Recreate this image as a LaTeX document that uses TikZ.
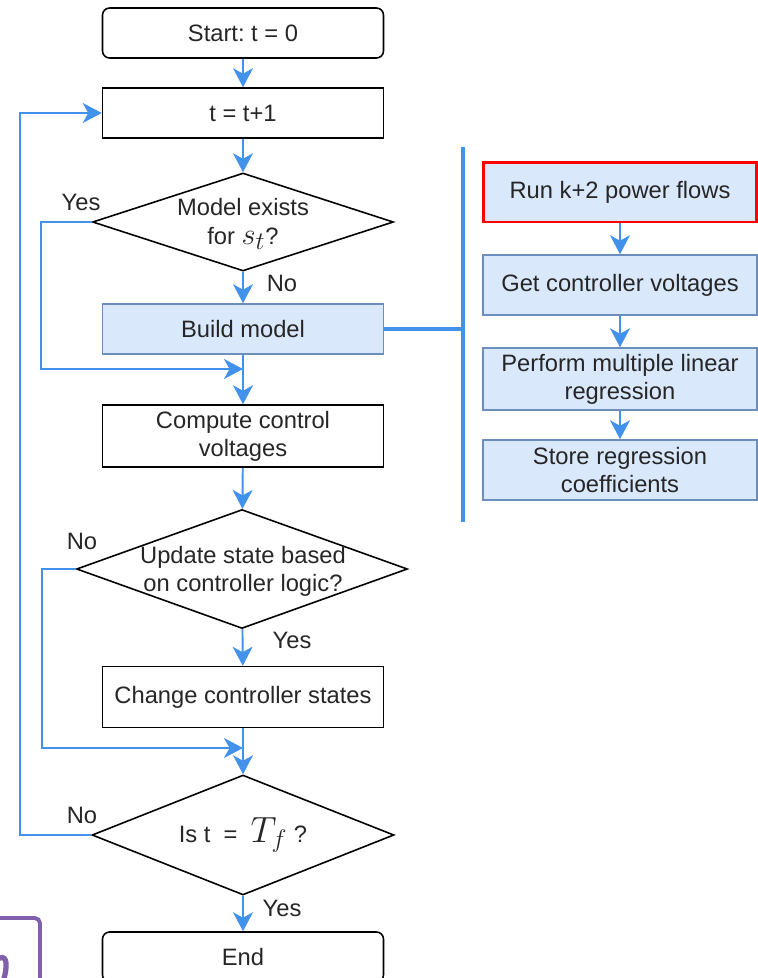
\documentclass[tikz,border=0pt]{standalone}
\usepackage{fontspec}
\setmainfont{Liberation Sans}
\usepackage{xcolor}
\usepackage{tikz}
\usetikzlibrary{calc}
\usetikzlibrary{shapes.geometric}
\usetikzlibrary{arrows.meta}
\definecolor{flowblue}{RGB}{66,146,236}
\definecolor{stepfill}{RGB}{218,232,252}
\definecolor{stepedge}{RGB}{108,142,191}
\definecolor{marker}{RGB}{130,95,170}
\def\bigmath{\fontsize{19}{19}\selectfont}
\def\hugemath{\fontsize{20}{20}\selectfont}
\frenchspacing

\begin{document}
\begin{tikzpicture}[x=0.02cm,y=-0.02cm,
	every node/.style={font=\fontsize{13.5}{16}\selectfont,text=black!85},
	flow/.style={draw=flowblue,line width=1.1pt,-{Stealth[length=3.8mm,width=4mm,inset=1.1mm]}},
	bar/.style={draw=flowblue,line width=2.4pt},
	term/.style={draw,line width=0.9pt,rounded corners=4pt,minimum width=5.62cm,minimum height=1cm},
	proc/.style={draw,line width=0.9pt,minimum width=5.62cm,minimum height=1cm,align=center},
	build/.style={proc,draw=stepedge,fill=stepfill},
	sub/.style={draw=stepedge,fill=stepfill,line width=0.9pt,minimum width=5.48cm,minimum height=1.2cm,align=center},
	decision/.style={diamond,draw,line width=0.9pt,inner sep=0pt}]
	\useasboundingbox (0,0) rectangle (758,978);
	% main column
	\node[term] (start) at (243,33) {Start: t = 0};
	\node[proc] (tick) at (243,113) {t = t+1};
	\node[decision,minimum width=6.02cm,minimum height=1.96cm] (exists) at (243,222) {};
	\node[align=center] (existstext) at (243,224) {Model exists\\for {\bigmath$s_t$}?};
	\node[build] (build) at (243,329) {Build model};
	\coordinate (join1) at (243,369);
	\node[proc,minimum height=1.22cm] (compute) at (243,436) {Compute control\\voltages};
	\node[decision,minimum width=6.62cm,minimum height=2.38cm] (update) at (242,569) {};
	\node[align=center] (updatetext) at (243,571) {Update state based\\on controller logic?};
	\node[proc,minimum height=1.22cm] (change) at (243,697) {Change controller states};
	\coordinate (join2) at (243,748);
	\node[decision,minimum width=6.04cm,minimum height=2.4cm] (done) at (243,835) {};
	\node (donetext) at (243,835) {Is t~ = ~{\hugemath$T_f$} ?};
	\node[term] (end) at (243,957) {End};
	% answers
	\node (yes1) at (81,202) {Yes};
	\node (no1) at (282,283) {No};
	\node (no2) at (82,541) {No};
	\node (yes2) at (292,640) {Yes};
	\node (no3) at (82,815) {No};
	\node (yes3) at (282,908) {Yes};
	% connectors
	\draw[flow] (start) -- (tick);
	\draw[flow] (tick) -- (exists);
	\draw[flow] (exists) -- (build);
	\draw[flow] (build) -- (compute);
	\draw[flow] (exists.west) -- ++(-51,0) |- (join1);
	\draw[flow] (compute) -- (update);
	\draw[flow] (update) -- (change);
	\draw[flow] (change) -- (done);
	\draw[flow] (update.west) -- ++(-34,0) |- (join2);
	\draw[flow] (done) -- (end);
	\draw[flow] (done.west) -- ++(-71,0) |- (tick.west);
	% model building steps
	\coordinate (bartop) at (463,147);
	\coordinate (barbot) at (463,522);
	\draw[bar] (bartop) -- (barbot);
	\draw[bar] (build.east) -- (build.east -| bartop);
	\node[sub,draw=red,line width=1.7pt] (runpf) at (620,192) {Run k+2 power flows};
	\node[sub] (getv) at (620,285) {Get controller voltages};
	\node[sub] (regress) at (620,379) {Perform multiple linear\\regression};
	\node[sub] (store) at (620,470) {Store regression\\coefficients};
	\draw[flow] (runpf) -- (getv);
	\draw[flow] (getv) -- (regress);
	\draw[flow] (regress) -- (store);
	% cut-off mark in the corner
	\draw[marker,line width=2.2pt,rounded corners=3pt] (0,918) -- (40,918) -- (40,990);
	\draw[marker,line width=3pt,line cap=round] (0,958) .. controls (7,955) and (8,966) .. (3,982);
\end{tikzpicture}
\end{document}
